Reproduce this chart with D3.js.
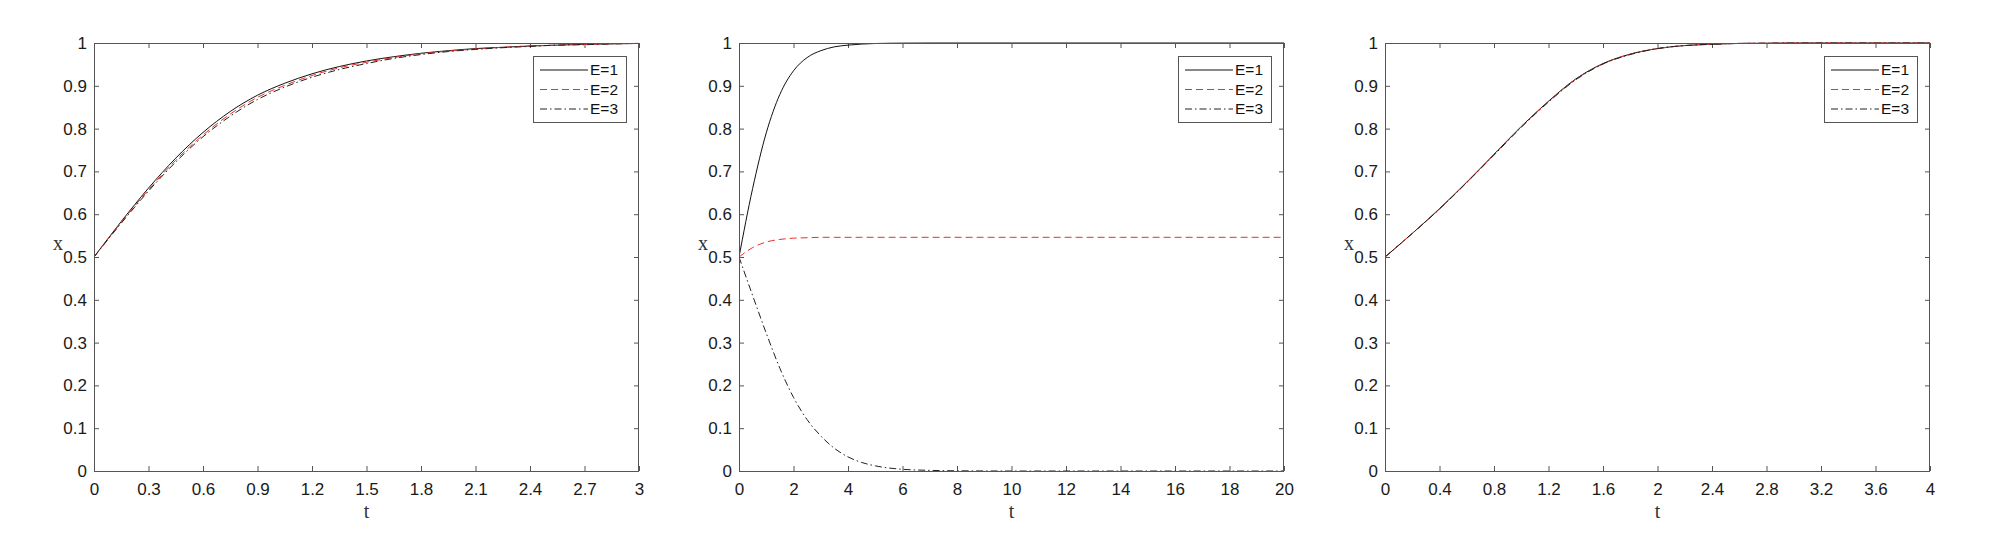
<!DOCTYPE html>
<html><head><meta charset="utf-8">
<script src="https://cdn.jsdelivr.net/npm/d3@7"></script>
<style>html,body{margin:0;padding:0;background:#fff;}svg{display:block;}</style>
</head><body>
<svg id="chart" width="2000" height="533"></svg>
<script>
// ---- data ----
const seriesNames = ["E=1", "E=2", "E=3"];
const yTicks = [0,0.1,0.2,0.3,0.4,0.5,0.6,0.7,0.8,0.9,1];
const yTickLabels = ["0","0.1","0.2","0.3","0.4","0.5","0.6","0.7","0.8","0.9","1"];

const p1_xTicks = [0,0.3,0.6,0.9,1.2,1.5,1.8,2.1,2.4,2.7,3];
const p1_xTickLabels = ["0","0.3","0.6","0.9","1.2","1.5","1.8","2.1","2.4","2.7","3"];
const p1_t  = [0,0.15,0.3,0.45,0.6,0.75,0.9,1.05,1.2,1.35,1.5,1.65,1.8,1.95,2.1,2.25,2.4,2.55,2.7,2.85,3];
const p1_E1 = [0.5,0.583,0.661,0.731,0.791,0.840,0.878,0.906,0.928,0.945,0.958,0.968,0.976,0.982,0.987,0.990,0.993,0.995,0.997,0.998,0.999];
const p1_E2 = [0.5,0.581,0.657,0.726,0.785,0.834,0.873,0.901,0.924,0.942,0.955,0.966,0.975,0.981,0.986,0.990,0.993,0.995,0.997,0.998,0.999];
const p1_E3 = [0.5,0.579,0.654,0.722,0.781,0.829,0.868,0.897,0.920,0.938,0.952,0.964,0.973,0.980,0.985,0.989,0.992,0.995,0.996,0.998,0.999];

const p2_xTicks = [0,2,4,6,8,10,12,14,16,18,20];
const p2_xTickLabels = ["0","2","4","6","8","10","12","14","16","18","20"];
const p2_t  = [0,0.5,1,1.5,2,2.5,3,3.5,4,4.5,5,5.5,6,7,8,10,12,14,16,18,20];
const p2_E1 = [0.5,0.66,0.79,0.88,0.935,0.966,0.982,0.991,0.995,0.9975,0.9988,0.9994,0.9997,1,1,1,1,1,1,1,1];
const p2_E2 = [0.5,0.522,0.535,0.541,0.544,0.545,0.546,0.546,0.546,0.546,0.546,0.546,0.546,0.546,0.546,0.546,0.546,0.546,0.546,0.546,0.546];
const p2_E3 = [0.5,0.41,0.322,0.24,0.172,0.12,0.082,0.053,0.033,0.02,0.012,0.007,0.004,0.0015,0.0005,0,0,0,0,0,0];

const p3_xTicks = [0,0.4,0.8,1.2,1.6,2,2.4,2.8,3.2,3.6,4];
const p3_xTickLabels = ["0","0.4","0.8","1.2","1.6","2","2.4","2.8","3.2","3.6","4"];
const p3_t  = [0,0.2,0.4,0.6,0.8,1.0,1.2,1.4,1.6,1.8,2.0,2.2,2.4,2.6,2.8,3.0,3.2,3.6,4.0];
const p3_E1 = [0.5,0.555,0.613,0.675,0.740,0.805,0.864,0.916,0.952,0.974,0.987,0.994,0.997,0.999,0.9995,1,1,1,1];
const p3_E2 = [0.5,0.555,0.612,0.674,0.739,0.804,0.863,0.915,0.951,0.974,0.987,0.994,0.997,0.999,0.9995,1,1,1,1];
const p3_E3 = [0.5,0.555,0.612,0.674,0.738,0.803,0.862,0.914,0.951,0.973,0.987,0.994,0.997,0.999,0.9995,1,1,1,1];

// ---- styles ----
const styles = [
  {stroke:"#111", dash:null},
  {stroke:"#e8302c", dash:"7,4"},
  {stroke:"#222", dash:"7,3,1.5,3"}
];
const panelsCfg = [
  {left:94,  xMax:3,  xTicks:p1_xTicks, xLabels:p1_xTickLabels, t:p1_t, ys:[p1_E1,p1_E2,p1_E3]},
  {left:739, xMax:20, xTicks:p2_xTicks, xLabels:p2_xTickLabels, t:p2_t, ys:[p2_E1,p2_E2,p2_E3]},
  {left:1385,xMax:4,  xTicks:p3_xTicks, xLabels:p3_xTickLabels, t:p3_t, ys:[p3_E1,p3_E2,p3_E3]}
];
const PW = 545, TOP = 43, BOT = 471;
const svg = d3.select("#chart");
svg.append("rect").attr("width",2000).attr("height",533).attr("fill","#fff");
const tickFont = "'Liberation Sans', Arial, sans-serif";
const serifFont = "'Liberation Serif', 'Times New Roman', serif";
const frameColor = "#555";

panelsCfg.forEach(p => {
  const x = d3.scaleLinear().domain([0,p.xMax]).range([p.left, p.left+PW]);
  const y = d3.scaleLinear().domain([0,1]).range([BOT, TOP]);
  const g = svg.append("g");

  const styleAxis = sel => {
    sel.select(".domain").remove();
    sel.selectAll(".tick line").attr("stroke", frameColor);
    sel.selectAll(".tick text").attr("fill","#1a1a1a").style("font-family",tickFont).style("font-size","17px");
  };
  g.append("g").attr("transform",`translate(0,${BOT})`)
    .call(d3.axisBottom(x).tickValues(p.xTicks).tickFormat((d,i)=>p.xLabels[i]).tickSize(-5).tickPadding(12))
    .call(styleAxis);
  g.append("g").attr("transform",`translate(0,${TOP})`)
    .call(d3.axisTop(x).tickValues(p.xTicks).tickFormat("").tickSize(-5))
    .call(styleAxis);
  g.append("g").attr("transform",`translate(${p.left},0)`)
    .call(d3.axisLeft(y).tickValues(yTicks).tickFormat((d,i)=>yTickLabels[i]).tickSize(-5).tickPadding(7))
    .call(styleAxis);
  g.append("g").attr("transform",`translate(${p.left+PW},0)`)
    .call(d3.axisRight(y).tickValues(yTicks).tickFormat("").tickSize(-5))
    .call(styleAxis);

  const clipId = "clip"+p.left;
  svg.append("clipPath").attr("id",clipId).append("rect")
    .attr("x",p.left).attr("y",TOP-2).attr("width",PW).attr("height",BOT-TOP+2);
  const line = d3.line().x(d=>x(d[0])).y(d=>y(d[1])).curve(d3.curveMonotoneX);
  p.ys.forEach((vals,k) => {
    const pts = p.t.map((tt,i)=>[tt, vals[i]]);
    g.append("path").datum(pts).attr("d",line)
      .attr("fill","none").attr("stroke",styles[k].stroke).attr("stroke-width",1)
      .attr("stroke-dasharray",styles[k].dash).attr("clip-path",`url(#${clipId})`);
  });

  g.append("rect").attr("x",p.left+0.5).attr("y",TOP+0.5).attr("width",PW-1).attr("height",BOT-TOP)
    .attr("fill","none").attr("stroke",frameColor).attr("stroke-width",1);

  g.append("text").attr("x",p.left+PW/2).attr("y",518).attr("text-anchor","middle")
    .style("font-family",serifFont).style("font-size","20px").attr("fill","#333").text("t");
  g.append("text").attr("x",p.left-36).attr("y",250).attr("text-anchor","middle")
    .style("font-family",serifFont).style("font-size","20px").attr("fill","#333").text("x");

  const lx = p.left+PW-106, ly = 56;
  const lg = g.append("g");
  lg.append("rect").attr("x",lx+0.5).attr("y",ly+0.5).attr("width",93).attr("height",66)
    .attr("fill","#fff").attr("stroke",frameColor).attr("stroke-width",1);
  seriesNames.forEach((nm,k) => {
    const yy = ly + 14 + k*19.5;
    lg.append("line").attr("x1",lx+7).attr("x2",lx+55).attr("y1",yy).attr("y2",yy)
      .attr("stroke",styles[k].stroke).attr("stroke-width",1).attr("stroke-dasharray",styles[k].dash);
    lg.append("text").attr("x",lx+57).attr("y",yy).attr("dy","0.35em")
      .style("font-family",tickFont).style("font-size","15.5px").attr("fill","#111").text(nm);
  });
});
</script>
</body></html>
